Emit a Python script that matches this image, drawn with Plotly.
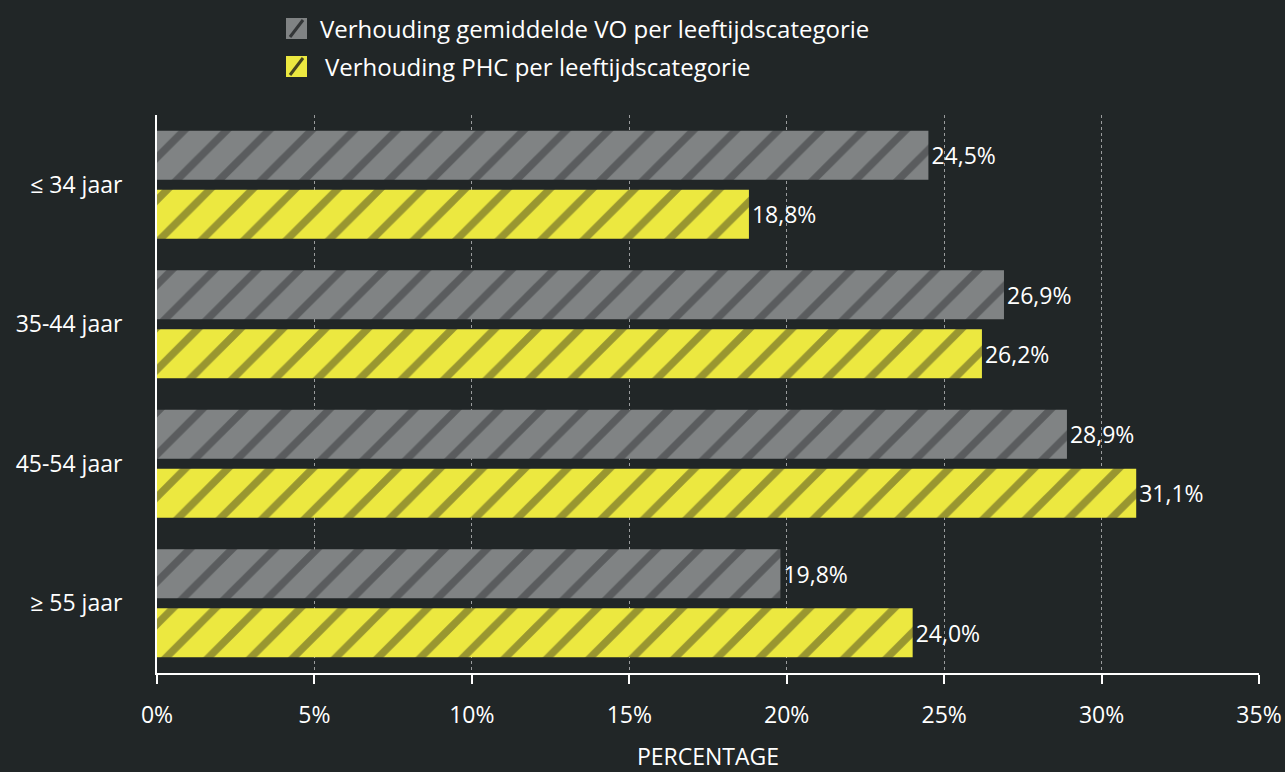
import plotly.graph_objects as go

# Age categories and shares (%) per series
categories = ["≤ 34 jaar", "35-44 jaar", "45-54 jaar", "≥ 55 jaar"]
vo_share = [24.5, 26.9, 28.9, 19.8]
phc_share = [18.8, 26.2, 31.1, 24.0]
series_names = [
    "Verhouding gemiddelde VO per leeftijdscategorie",
    "Verhouding PHC per leeftijdscategorie",
]
x_ticks = [0, 5, 10, 15, 20, 25, 30, 35]

BG = "#212627"
GRAY = "#808384"
GRAY_STRIPE = "#333637"
YELLOW = "#ece840"
YELLOW_STRIPE = "#45441f"
FONT = "Open Sans"


def pct_label(v):
    return f"{v:.1f}".replace(".", ",") + "%"


fig = go.Figure()
for name, vals, col, stripe in [
    (series_names[0], vo_share, GRAY, GRAY_STRIPE),
    (series_names[1], phc_share, YELLOW, YELLOW_STRIPE),
]:
    fig.add_trace(go.Bar(
        y=categories,
        x=vals,
        orientation="h",
        name=name,
        marker=dict(
            color=col,
            line=dict(width=0),
            pattern=dict(shape="/", bgcolor=col, fgcolor=stripe,
                         size=30, solidity=0.25),
        ),
        text=[pct_label(v) for v in vals],
        textposition="outside",
        textfont=dict(color="white", size=23, family=FONT),
        cliponaxis=False,
        showlegend=False,
    ))

# Custom legend: hatched swatches + labels above the plot
swatches = [
    (76, 97, GRAY, GRAY_STRIPE),
    (38, 59, YELLOW, YELLOW_STRIPE),
]
shapes = []
for y0, y1, col, stripe in swatches:
    shapes.append(dict(
        type="rect", xref="paper", yref="paper",
        xsizemode="pixel", ysizemode="pixel",
        xanchor=0, yanchor=1,
        x0=129, x1=150, y0=y0, y1=y1,
        fillcolor=col, line=dict(width=0),
    ))
    shapes.append(dict(
        type="line", xref="paper", yref="paper",
        xsizemode="pixel", ysizemode="pixel",
        xanchor=0, yanchor=1,
        x0=133, x1=146, y0=y0 + 2, y1=y1 - 2,
        line=dict(color=stripe, width=3),
    ))

annotations = [
    dict(text=series_names[0], xref="paper", yref="paper",
         x=0.1461, y=1.1559, xanchor="left", yanchor="middle",
         showarrow=False, font=dict(color="white", size=24, family=FONT)),
    dict(text=series_names[1], xref="paper", yref="paper",
         x=0.1506, y=1.0878, xanchor="left", yanchor="middle",
         showarrow=False, font=dict(color="white", size=24, family=FONT)),
]

fig.update_layout(
    width=1285, height=772,
    paper_bgcolor=BG, plot_bgcolor=BG,
    margin=dict(l=157, r=26, t=115, b=99, pad=0),
    barmode="group",
    bargap=0.154,
    bargroupgap=0.17,
    separators=",.",
    font=dict(family=FONT, color="white", size=23),
    shapes=shapes,
    annotations=annotations,
    showlegend=False,
)

fig.update_xaxes(
    range=[0, 35],
    tickvals=x_ticks,
    ticktext=[f"{t}%" for t in x_ticks],
    showgrid=True, gridcolor="#9a9c9d", griddash="dot", gridwidth=1,
    showline=True, linecolor="white", linewidth=2,
    ticks="outside", ticklen=9, tickcolor="white", tickwidth=2,
    ticklabelstandoff=11,
    tickfont=dict(size=23, color="white", family=FONT),
    title=dict(text="PERCENTAGE", standoff=33,
               font=dict(size=23, color="white", family=FONT)),
    zeroline=False,
    automargin=False,
)

fig.update_yaxes(
    autorange="reversed",
    showgrid=False,
    showline=True, linecolor="white", linewidth=2,
    ticks="", ticklabelstandoff=28,
    tickfont=dict(size=23, color="white", family=FONT),
    automargin=False,
)

fig.write_html("out.html")
